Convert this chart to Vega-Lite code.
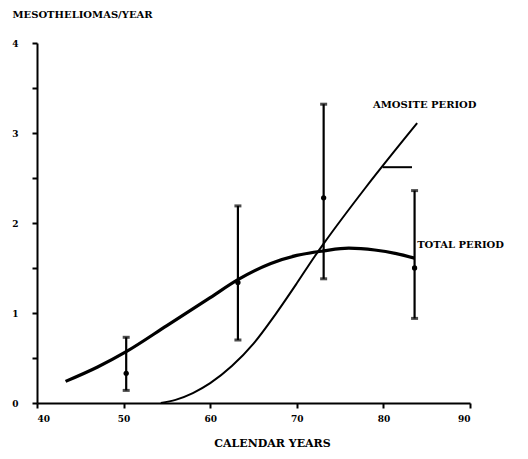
{
  "$schema": "https://vega.github.io/schema/vega-lite/v6.json",
  "autosize": "none",
  "width": 433,
  "height": 360,
  "padding": {"left": 37, "top": 43, "right": 58, "bottom": 56},
  "background": "white",
  "config": {
    "view": {"stroke": null},
    "axis": {"grid": false, "domainColor": "black", "tickColor": "black", "domainWidth": 2, "tickWidth": 2, "labelColor": "black", "titleColor": "black", "labelFont": "DejaVu Serif", "titleFont": "DejaVu Serif", "labelFontWeight": "bold", "titleFontWeight": "bold"}
  },
  "datasets": {
    "total": [
      {"year": 43.3, "rate": 0.24},
      {"year": 47, "rate": 0.4},
      {"year": 50.3, "rate": 0.57},
      {"year": 55, "rate": 0.86},
      {"year": 60, "rate": 1.17},
      {"year": 63.2, "rate": 1.37},
      {"year": 67, "rate": 1.55},
      {"year": 70, "rate": 1.64},
      {"year": 73.1, "rate": 1.69},
      {"year": 76, "rate": 1.72},
      {"year": 79, "rate": 1.7},
      {"year": 81.5, "rate": 1.66},
      {"year": 83.6, "rate": 1.61}
    ],
    "amosite": [
      {"year": 54.3, "rate": 0},
      {"year": 56, "rate": 0.035},
      {"year": 58, "rate": 0.11},
      {"year": 60, "rate": 0.22},
      {"year": 62.5, "rate": 0.41},
      {"year": 65, "rate": 0.66},
      {"year": 67.5, "rate": 0.98},
      {"year": 70, "rate": 1.33},
      {"year": 72, "rate": 1.62},
      {"year": 73.1, "rate": 1.77},
      {"year": 78, "rate": 2.4},
      {"year": 83.9, "rate": 3.11}
    ],
    "obs": [
      {"year": 50.3, "rate": 0.33, "low": 0.14, "high": 0.73},
      {"year": 63.2, "rate": 1.34, "low": 0.7, "high": 2.19},
      {"year": 73.1, "rate": 2.28, "low": 1.38, "high": 3.32},
      {"year": 83.6, "rate": 1.5, "low": 0.94, "high": 2.36}
    ],
    "dash": [{"x1": 79.9, "x2": 83.3, "y": 2.62}],
    "labels": [
      {"year": 78.8, "rate": 3.31, "label": "AMOSITE PERIOD"},
      {"year": 83.9, "rate": 1.76, "label": "TOTAL PERIOD"}
    ]
  },
  "layer": [
    {
      "data": {"name": "total"},
      "mark": {"type": "line", "interpolate": "monotone", "color": "black", "strokeWidth": 3.2},
      "encoding": {
        "x": {"field": "year", "type": "quantitative", "scale": {"domain": [40, 90], "nice": false},
          "axis": {"values": [40, 50, 60, 70, 80, 90], "title": "CALENDAR YEARS", "titleFontSize": 11, "titleX": 235, "titlePadding": 14, "labelFontSize": 9, "tickSize": 5, "labelPadding": 6}},
        "y": {"field": "rate", "type": "quantitative", "scale": {"domain": [0, 4], "nice": false},
          "axis": {"values": [0, 0.5, 1, 1.5, 2, 2.5, 3, 3.5, 4], "labelExpr": "datum.value % 1 === 0 ? format(datum.value, 'd') : ''", "title": "MESOTHELIOMAS/YEAR", "titleAngle": 0, "titleAlign": "left", "titleBaseline": "middle", "titleX": -25, "titleY": -29, "titleFontSize": 10, "labelFontSize": 9, "tickSize": 5, "labelPadding": 14}}
      }
    },
    {
      "data": {"name": "amosite"},
      "mark": {"type": "line", "interpolate": "monotone", "color": "black", "strokeWidth": 2},
      "encoding": {
        "x": {"field": "year", "type": "quantitative"},
        "y": {"field": "rate", "type": "quantitative"}
      }
    },
    {
      "data": {"name": "obs"},
      "mark": {"type": "rule", "color": "black", "strokeWidth": 2.2},
      "encoding": {
        "x": {"field": "year", "type": "quantitative"},
        "y": {"field": "low", "type": "quantitative"},
        "y2": {"field": "high"}
      }
    },
    {
      "data": {"name": "obs"},
      "mark": {"type": "tick", "orient": "horizontal", "color": "black", "size": 7, "thickness": 3},
      "encoding": {
        "x": {"field": "year", "type": "quantitative"},
        "y": {"field": "low", "type": "quantitative"}
      }
    },
    {
      "data": {"name": "obs"},
      "mark": {"type": "tick", "orient": "horizontal", "color": "black", "size": 7, "thickness": 3},
      "encoding": {
        "x": {"field": "year", "type": "quantitative"},
        "y": {"field": "high", "type": "quantitative"}
      }
    },
    {
      "data": {"name": "obs"},
      "mark": {"type": "point", "filled": true, "color": "black", "size": 28, "opacity": 1},
      "encoding": {
        "x": {"field": "year", "type": "quantitative"},
        "y": {"field": "rate", "type": "quantitative"}
      }
    },
    {
      "data": {"name": "dash"},
      "mark": {"type": "rule", "color": "black", "strokeWidth": 2},
      "encoding": {
        "x": {"field": "x1", "type": "quantitative"},
        "x2": {"field": "x2"},
        "y": {"field": "y", "type": "quantitative"}
      }
    },
    {
      "data": {"name": "labels"},
      "mark": {"type": "text", "align": "left", "baseline": "middle", "font": "DejaVu Serif", "fontWeight": "bold", "fontSize": 10, "color": "black"},
      "encoding": {
        "x": {"field": "year", "type": "quantitative"},
        "y": {"field": "rate", "type": "quantitative"},
        "text": {"field": "label"}
      }
    }
  ]
}
